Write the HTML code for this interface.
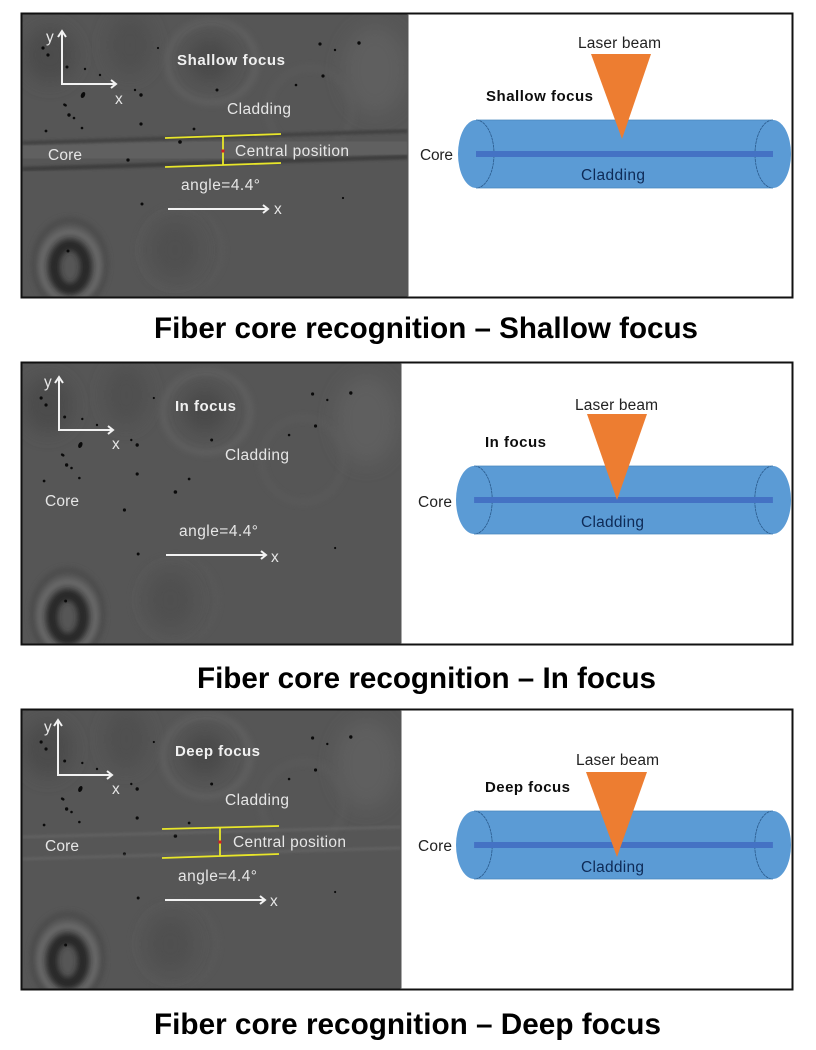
<!DOCTYPE html>
<html><head><meta charset="utf-8"><style>
html,body{margin:0;padding:0;background:#fff}
svg{display:block}
text{font-family:"Liberation Sans",sans-serif}
.w{fill:#e6e6e6;font-size:15.5px}
.wb{fill:#f0f0f0;font-size:15px;font-weight:bold}
.k{fill:#222;font-size:15.5px}
.kb{fill:#111;font-size:15px;font-weight:bold}
.c{fill:#0e2a57;font-size:15.5px}
.t{fill:#000;font-size:30px;font-weight:bold}
</style></head><body>
<svg width="816" height="1050" viewBox="0 0 816 1050" xmlns="http://www.w3.org/2000/svg">
<defs>
<filter id="b3" x="-50%" y="-50%" width="200%" height="200%"><feGaussianBlur stdDeviation="3"/></filter>
<filter id="b6" x="-50%" y="-50%" width="200%" height="200%"><feGaussianBlur stdDeviation="9"/></filter>
<filter id="b1" x="-20%" y="-20%" width="140%" height="140%"><feGaussianBlur stdDeviation="1.2"/></filter>
<filter id="s"><feGaussianBlur stdDeviation="0.3"/></filter>
<clipPath id="c1"><rect x="22" y="14" width="386" height="283"/></clipPath>
<clipPath id="c2"><rect x="22" y="363" width="379" height="281"/></clipPath>
<clipPath id="c3"><rect x="22" y="710" width="379" height="279"/></clipPath>
<g id="photo">
<rect x="0" y="0" width="430" height="320" fill="#565656"/>
<ellipse cx="50" cy="55" rx="26" ry="28" fill="#4c4c4c" filter="url(#b6)"/>
<ellipse cx="130" cy="45" rx="22" ry="30" fill="#505050" filter="url(#b6)"/>
<ellipse cx="212" cy="62" rx="44" ry="40" fill="none" stroke="#5e5e5e" stroke-width="7" filter="url(#b3)"/>
<ellipse cx="210" cy="60" rx="22" ry="22" fill="#484848" filter="url(#b6)"/>
<ellipse cx="310" cy="110" rx="42" ry="42" fill="none" stroke="#5a5a5a" stroke-width="5" filter="url(#b3)"/>
<ellipse cx="375" cy="70" rx="32" ry="44" fill="#5e5e5e" filter="url(#b6)"/>
<ellipse cx="180" cy="250" rx="42" ry="42" fill="none" stroke="#595959" stroke-width="5" filter="url(#b3)"/>
<ellipse cx="175" cy="250" rx="24" ry="28" fill="#505050" filter="url(#b6)"/>
<ellipse cx="70" cy="264" rx="36" ry="44" fill="none" stroke="#4a4a4a" stroke-width="5" filter="url(#b3)"/>
<ellipse cx="70" cy="266" rx="28" ry="34" fill="none" stroke="#6c6c6c" stroke-width="6" filter="url(#b3)"/>
<ellipse cx="70" cy="267" rx="16" ry="22" fill="none" stroke="#262626" stroke-width="11" filter="url(#b3)"/>
<g fill="#0a0a0a">
<circle cx="43" cy="48" r="1.6"/><circle cx="48" cy="55" r="1.6"/><circle cx="67" cy="67" r="1.5"/><circle cx="85" cy="69" r="1.2"/><circle cx="100" cy="75" r="1.2"/>
<ellipse cx="83" cy="95" rx="2" ry="3.2" transform="rotate(25 83 95)"/>
<circle cx="135" cy="90" r="1.2"/><circle cx="141" cy="95" r="1.7"/><ellipse cx="65" cy="105" rx="2" ry="1.3" transform="rotate(30 65 105)"/><circle cx="69" cy="115" r="1.7"/><circle cx="74" cy="118" r="1.3"/><circle cx="82" cy="128" r="1.3"/><circle cx="46" cy="131" r="1.4"/><circle cx="141" cy="124" r="1.6"/><circle cx="194" cy="129" r="1.4"/><circle cx="180" cy="142" r="1.8"/><circle cx="128" cy="160" r="1.6"/><circle cx="142" cy="204" r="1.5"/><circle cx="158" cy="48" r="1.1"/><circle cx="217" cy="90" r="1.5"/><circle cx="320" cy="44" r="1.6"/><circle cx="335" cy="50" r="1.2"/><circle cx="359" cy="43" r="1.7"/><circle cx="323" cy="76" r="1.6"/><circle cx="296" cy="85" r="1.3"/><circle cx="343" cy="198" r="1.1"/><circle cx="68" cy="251" r="1.5"/>
</g>
</g>
<g id="cyl">
<rect x="18" y="0" width="297" height="68" fill="#5b9bd5"/>
<ellipse cx="18" cy="34" rx="18" ry="34" fill="#5b9bd5"/>
<ellipse cx="315" cy="34" rx="18" ry="34" fill="#5b9bd5"/>
<path d="M18 0A18 34 0 0 1 18 68M315 0A18 34 0 0 0 315 68" fill="none" stroke="#2a5a8c" stroke-width="0.8" stroke-dasharray="3 0.6"/>
<path d="M18 0H315M18 68H315" stroke="#4a86bd" stroke-width="0.8"/>
<rect x="18" y="31" width="297" height="6" fill="#4472c4"/>
</g>
</defs>

<!-- Panel 1 -->
<g clip-path="url(#c1)"><use href="#photo"/>
<path d="M22 156L408 144" stroke="#606060" stroke-width="22" fill="none" filter="url(#b1)"/>
<path d="M22 143L408 131" stroke="#424242" stroke-width="4" fill="none" filter="url(#b1)"/>
<path d="M22 169L408 157" stroke="#3e3e3e" stroke-width="4.5" fill="none" filter="url(#b1)"/>
<circle cx="180" cy="142" r="1.8" fill="#0a0a0a"/><circle cx="128" cy="160" r="1.6" fill="#0a0a0a"/>
</g>
<g fill="none" stroke="#f2f2f2" stroke-width="2" filter="url(#s)">
<path d="M62 33V84H115"/><path d="M58 37L62 31L66 37"/><path d="M111 80L116 84L111 88"/>
<path d="M168 209H268"/><path d="M263 205L268 209L263 213"/>
</g>
<g fill="none" stroke="#e8e62a" stroke-width="1.8">
<path d="M165 138L281 134M165 167L281 163M223 136V165"/></g>
<rect x="221.500" y="149.500" width="3" height="3" fill="#d02020"/>
<g filter="url(#s)">
<text class="w" x="46" y="42">y</text><text class="w" x="115" y="104">x</text>
<text class="wb" x="177" y="65" textLength="108" lengthAdjust="spacing">Shallow focus</text>
<text class="w" x="227" y="114" textLength="64" lengthAdjust="spacing">Cladding</text>
<text class="w" x="235" y="156" textLength="114" lengthAdjust="spacing">Central position</text>
<text class="w" x="48" y="160" textLength="34" lengthAdjust="spacing">Core</text>
<text class="w" x="181" y="190" textLength="79" lengthAdjust="spacing">angle=4.4°</text>
<text class="w" x="274" y="214">x</text>
</g>
<use href="#cyl" x="458" y="120"/>
<polygon points="591,54 651,54 622,139" fill="#ed7d31"/>
<g filter="url(#s)">
<text class="k" x="578" y="48" textLength="83" lengthAdjust="spacing">Laser beam</text>
<text class="kb" x="486" y="101" textLength="107" lengthAdjust="spacing">Shallow focus</text>
<text class="k" x="420" y="160" textLength="33" lengthAdjust="spacing">Core</text>
<text class="c" x="581" y="180" textLength="64" lengthAdjust="spacing">Cladding</text>
</g>
<rect x="21.500" y="13.500" width="771" height="284" fill="none" stroke="#111" stroke-width="2"/>
<path d="M408 14V297" stroke="#555" stroke-width="1"/>
<text class="t" x="154" y="338" textLength="544" lengthAdjust="spacingAndGlyphs">Fiber core recognition – Shallow focus</text>

<!-- Panel 2 -->
<g clip-path="url(#c2)"><use href="#photo" transform="matrix(.98 0 0 1 -1 350)"/></g>
<g fill="none" stroke="#f2f2f2" stroke-width="2" filter="url(#s)">
<path d="M59 379V430H112"/><path d="M55 383L59 377L63 383"/><path d="M108 426L113 430L108 434"/>
<path d="M166 555H266"/><path d="M261 551L266 555L261 559"/>
</g>
<g filter="url(#s)">
<text class="w" x="44" y="387">y</text><text class="w" x="112" y="449">x</text>
<text class="wb" x="175" y="411" textLength="61" lengthAdjust="spacing">In focus</text>
<text class="w" x="225" y="460" textLength="64" lengthAdjust="spacing">Cladding</text>
<text class="w" x="45" y="506" textLength="34" lengthAdjust="spacing">Core</text>
<text class="w" x="179" y="536" textLength="79" lengthAdjust="spacing">angle=4.4°</text>
<text class="w" x="271" y="562">x</text>
</g>
<use href="#cyl" transform="matrix(1.006 0 0 1 456 466)"/>
<polygon points="587,414 647,414 617,500" fill="#ed7d31"/>
<g filter="url(#s)">
<text class="k" x="575" y="410" textLength="83" lengthAdjust="spacing">Laser beam</text>
<text class="kb" x="485" y="447" textLength="61" lengthAdjust="spacing">In focus</text>
<text class="k" x="418" y="507" textLength="34" lengthAdjust="spacing">Core</text>
<text class="c" x="581" y="527" textLength="63" lengthAdjust="spacing">Cladding</text>
</g>
<rect x="21.500" y="362.500" width="771" height="282" fill="none" stroke="#111" stroke-width="2"/>
<path d="M401 363V644" stroke="#555" stroke-width="1"/>
<text class="t" x="197" y="688" textLength="459" lengthAdjust="spacingAndGlyphs">Fiber core recognition – In focus</text>

<!-- Panel 3 -->
<g clip-path="url(#c3)"><use href="#photo" transform="matrix(.98 0 0 1 -1 694)"/>
<path d="M22 837L401 827" stroke="#666" stroke-width="2" fill="none" filter="url(#b1)"/>
<path d="M22 859L401 848" stroke="#666" stroke-width="2" fill="none" filter="url(#b1)"/>
</g>
<g fill="none" stroke="#f2f2f2" stroke-width="2" filter="url(#s)">
<path d="M58 722V775H111"/><path d="M54 726L58 720L62 726"/><path d="M107 771L112 775L107 779"/>
<path d="M165 900H265"/><path d="M260 896L265 900L260 904"/>
</g>
<g fill="none" stroke="#e8e62a" stroke-width="1.8">
<path d="M162 829L279 826M162 858L279 854M220 828V856"/></g>
<rect x="218.500" y="840.500" width="3" height="3" fill="#d02020"/>
<g filter="url(#s)">
<text class="w" x="44" y="732">y</text><text class="w" x="112" y="794">x</text>
<text class="wb" x="175" y="756" textLength="85" lengthAdjust="spacing">Deep focus</text>
<text class="w" x="225" y="805" textLength="64" lengthAdjust="spacing">Cladding</text>
<text class="w" x="233" y="847" textLength="113" lengthAdjust="spacing">Central position</text>
<text class="w" x="45" y="851" textLength="34" lengthAdjust="spacing">Core</text>
<text class="w" x="178" y="881" textLength="79" lengthAdjust="spacing">angle=4.4°</text>
<text class="w" x="270" y="906">x</text>
</g>
<use href="#cyl" transform="matrix(1.006 0 0 1 456 811)"/>
<polygon points="586,772 647,772 617,857" fill="#ed7d31"/>
<g filter="url(#s)">
<text class="k" x="576" y="765" textLength="83" lengthAdjust="spacing">Laser beam</text>
<text class="kb" x="485" y="792" textLength="85" lengthAdjust="spacing">Deep focus</text>
<text class="k" x="418" y="851" textLength="34" lengthAdjust="spacing">Core</text>
<text class="c" x="581" y="872" textLength="63" lengthAdjust="spacing">Cladding</text>
</g>
<rect x="21.500" y="709.500" width="771" height="280" fill="none" stroke="#111" stroke-width="2"/>
<path d="M401 710V989" stroke="#555" stroke-width="1"/>
<text class="t" x="154" y="1034" textLength="507" lengthAdjust="spacingAndGlyphs">Fiber core recognition – Deep focus</text>
</svg>
</body></html>
